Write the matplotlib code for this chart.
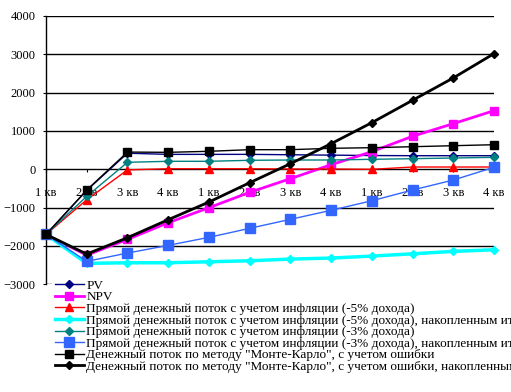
import matplotlib
matplotlib.use("Agg")
import matplotlib.pyplot as plt
from matplotlib.lines import Line2D

plt.rcParams['font.family'] = ['Liberation Serif', 'DejaVu Serif']

quarters = ["1 кв", "2 кв", "3 кв", "4 кв"] * 3

pv = [-1700, -550, 420, 390, 390, 390, 380, 370, 360, 355, 355, 355]
npv = [-1700, -2240, -1828, -1394, -1002, -600, -245, 120, 460, 862, 1191, 1530]
red5 = [-1700, -795, -15, 15, 15, 15, 8, 8, 0, 60, 60, 60]
cum5 = [-1700, -2454, -2438, -2438, -2412, -2386, -2342, -2316, -2264, -2204, -2141, -2099]
teal3 = [-1700, -705, 183, 209, 209, 235, 243, 243, 261, 277, 295, 313]
cum3 = [-1700, -2402, -2185, -1984, -1775, -1540, -1305, -1070, -820, -540, -280, 52]
mc = [-1700, -540, 450, 443, 470, 512, 512, 548, 564, 590, 616, 642]
mc_cum = [-1700, -2211, -1785, -1315, -854, -350, 146, 668, 1217, 1801, 2384, 3018]

labels = [
    "PV",
    "NPV",
    "Прямой денежный поток с учетом инфляции (-5% дохода)",
    "Прямой денежный поток с учетом инфляции (-5% дохода), накопленным итогом",
    "Прямой денежный поток с учетом инфляции (-3% дохода)",
    "Прямой денежный поток с учетом инфляции (-3% дохода), накопленным итогом",
    "Денежный поток по методу \"Монте-Карло\", с учетом ошибки",
    "Денежный поток по методу \"Монте-Карло\", с учетом ошибки, накопленным итогом",
]

W, H = 511, 392
fig = plt.figure(figsize=(W / 100, H / 100), dpi=100)
ax = fig.add_axes([46 / W, 1 - 284.3 / H, (494 - 46) / W, (284.3 - 16) / H])

x = list(range(len(quarters)))
styles = [
    (pv, dict(color="#000080", lw=1.0, marker="D", ms=4)),
    (npv, dict(color="#FF00FF", lw=2.0, marker="s", ms=5.5)),
    (red5, dict(color="#FF0000", lw=1.0, marker="^", ms=6)),
    (cum5, dict(color="#00FFFF", lw=2.5, marker="D", ms=4)),
    (teal3, dict(color="#008080", lw=1.0, marker="D", ms=4.5)),
    (cum3, dict(color="#3366FF", lw=1.0, marker="s", ms=6.5)),
    (mc, dict(color="#000000", lw=1.0, marker="s", ms=5.5)),
    (mc_cum, dict(color="#000000", lw=2.0, marker="D", ms=4)),
]
handles = []
for i, (data, st) in enumerate(styles):
    h, = ax.plot(x, data, label=labels[i], zorder=3 + i, clip_on=False, **st)
    handles.append(h)

ax.set_xlim(0, 11)
ax.set_ylim(-3000, 4000)
ax.set_yticks(range(-3000, 4001, 1000))
ax.tick_params(axis="y", labelsize=9, length=2.5, direction="out", pad=5)
for yv in range(-3000, 4001, 1000):
    if yv != 0:
        ax.axhline(yv, color="black", lw=1, zorder=1)

ax.spines["top"].set_visible(False)
ax.spines["right"].set_visible(False)
ax.spines["bottom"].set_position(("data", 0))
ax.spines["bottom"].set_linewidth(1)
ax.spines["left"].set_linewidth(1)
ax.set_xticks(x)
ax.set_xticklabels(quarters)
ax.tick_params(axis="x", labelsize=9, length=2.5, direction="out", pad=10)

leg = fig.legend(handles=handles, labels=labels, loc="upper left",
                 bbox_to_anchor=(52 / W, 1 - 277 / H), frameon=True,
                 facecolor="white", edgecolor="none", framealpha=1,
                 fontsize=9.5, handlelength=2.2, handletextpad=0.2,
                 labelspacing=-0.05, borderpad=0.2, borderaxespad=0)
leg.set_zorder(20)

fig.savefig("out.png", dpi=100)
